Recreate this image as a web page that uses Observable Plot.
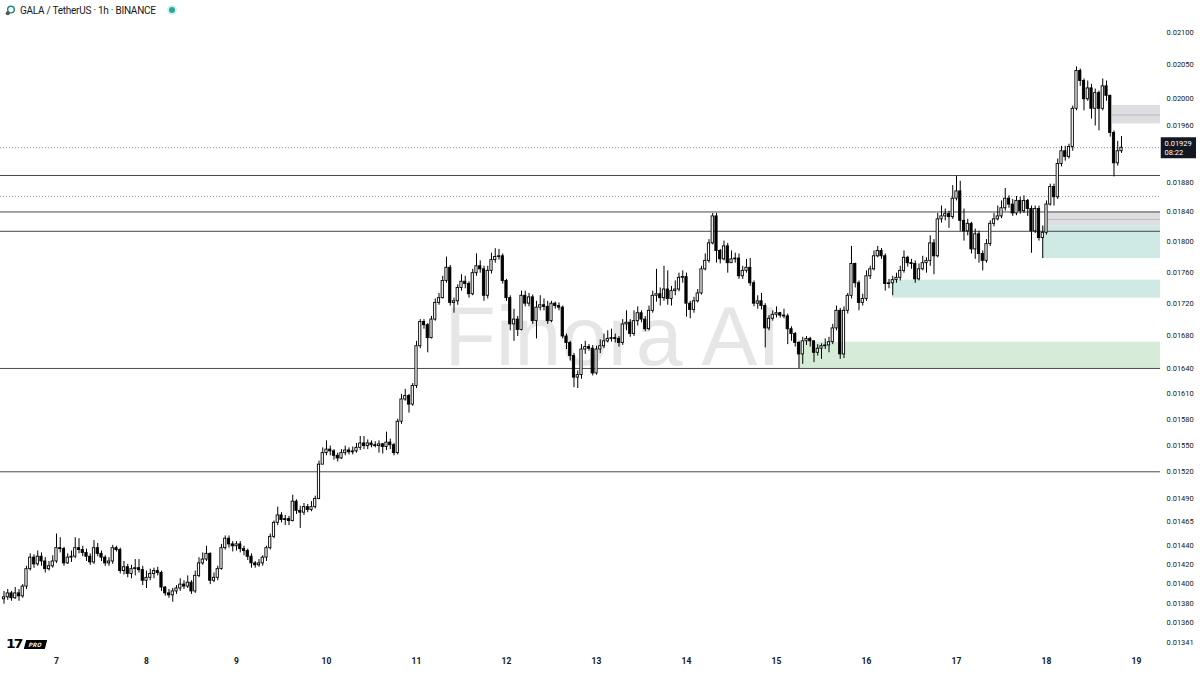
<!DOCTYPE html>
<html>
<head>
<meta charset="utf-8">
<script src="https://cdn.jsdelivr.net/npm/d3@7"></script>
<script src="https://cdn.jsdelivr.net/npm/@observablehq/plot@0.6"></script>
<style>
  html, body { margin: 0; padding: 0; background: #ffffff; }
  #wrap { position: relative; width: 1200px; height: 675px; overflow: hidden; font-family: Roboto, "Liberation Sans", sans-serif; }
  #title { position: absolute; left: 5px; top: 3px; height: 14px; display: flex; align-items: center; font-size: 10px; color: #131722; letter-spacing: -0.25px; }
  #title .ico { width: 11px; height: 11px; margin-right: 4px; }
  #title .dot { width: 6px; height: 6px; border-radius: 50%; background: #22ab94; box-shadow: 0 0 0 2px rgba(34,171,148,0.18); margin-left: 13px; }
  #logo { position: absolute; left: 7px; top: 637px; display: flex; align-items: center; }
  #logo .tv { font-family: "DejaVu Sans", sans-serif; font-weight: 900; font-size: 12px; color: #000; letter-spacing: -1.5px; transform: scaleX(1.15); }
  #logo .pro { margin-left: 4px; background: #000; color: #fff; font-size: 6px; font-weight: 700; padding: 1px 4px; transform: skewX(-15deg); letter-spacing: 0.3px; }
</style>
</head>
<body>
<div id="wrap">
  <div id="chart"></div>
  <div id="title">
    <svg class="ico" viewBox="0 0 12 12"><circle cx="6.5" cy="5" r="3.6" fill="none" stroke="#1e8a80" stroke-width="1.6"/><circle cx="3" cy="9" r="2.2" fill="#555"/></svg>
    <span id="titleText"></span>
    <span class="dot"></span>
  </div>
  <div id="logo"><span class="tv">17</span><span class="pro">PRO</span></div>
</div>
<script>
// ---------- data ----------
const symbolTitle = "GALA / TetherUS · 1h · BINANCE";
const watermark = "Finora AI";
const countdown = "08:22";

const firstHour = -14;        // hours relative to day 7, 00:00
const firstOpen = 0.01384;

const closes = [
  .01386,.01390,.01385,.01390,.01387,.01397,.01415,.01427,.01420,.01428,.01423,.01415,.01418,.01423,
  .01437,.01436,.01421,.01427,.01428,.01437,.01435,.01432,.01428,.01422,
  .01437,.01431,.01427,.01421,.01423,.01437,.01435,.01413,.01417,.01410,
  .01415,.01416,.01414,.01403,.01406,.01410,.01413,.01411,.01396,.01390,
  .01388,.01392,.01395,.01399,.01397,.01401,.01392,.01408,.01421,.01425,
  .01431,.01403,.01406,.01415,.01437,.01447,.01441,.01439,.01441,.01436,
  .01434,.01428,.01421,.01419,.01421,.01427,.01437,.01449,.01464,.01472,
  .01467,.01468,.01466,.01487,.01477,.01475,.01481,.01478,.01481,.01490,
  .01528,.01541,.01545,.01543,.01538,.01535,.01541,.01544,.01542,.01543,
  .01547,.01552,.01549,.01552,.01550,.01549,.01551,.01548,.01553,.01550,
  .01541,.01577,.01603,.01607,.01597,.01619,.01667,.01697,.01693,.01677,
  .01700,.01721,.01727,.01749,.01766,.01721,.01723,.01740,.01748,.01745,
  .01732,.01759,.01768,.01764,.01730,.01762,.01776,.01780,.01781,.01749,
  .01727,.01694,.01700,.01687,.01730,.01720,.01728,.01698,.01715,.01718,
  .01716,.01698,.01720,.01717,.01715,.01679,.01671,.01655,.01629,.01632,
  .01663,.01666,.01664,.01634,.01663,.01667,.01673,.01676,.01677,.01676,
  .01671,.01694,.01696,.01682,.01698,.01708,.01700,.01688,.01711,.01730,
  .01732,.01727,.01738,.01726,.01736,.01738,.01753,.01754,.01720,.01712,
  .01723,.01733,.01764,.01775,.01798,.01834,.01788,.01777,.01794,.01772,
  .01777,.01778,.01755,.01762,.01766,.01746,.01720,.01723,.01717,.01689,
  .01701,.01706,.01708,.01705,.01704,.01688,.01682,.01671,.01657,.01673,
  .01676,.01673,.01659,.01664,.01667,.01668,.01672,.01689,.01711,.01657,
  .01711,.01730,.01771,.01746,.01721,.01726,.01755,.01764,.01781,.01788,
  .01781,.01745,.01746,.01750,.01753,.01762,.01779,.01772,.01771,.01751,
  .01764,.01772,.01775,.01798,.01781,.01830,.01834,.01837,.01833,.01858,
  .01868,.01828,.01814,.01824,.01790,.01810,.01784,.01775,.01797,.01824,
  .01830,.01834,.01845,.01858,.01850,.01838,.01855,.01841,.01855,.01844,
  .01814,.01844,.01805,.01812,.01850,.01874,.01860,.01906,.01924,.01916,
  .01930,.01985,.02041,.02026,.01999,.02015,.01985,.02008,.01985,.02018,
  .02004,.01950,.01907,.01924,.01929
];

const highs = [
  .01392,.01394,.01392,.01396,.01394,.01399,.01418,.01431,.01430,.01434,.01432,.01427,.01423,.01429,
  .01452,.01448,.01438,.01431,.01434,.01448,.01447,.01439,.01436,.01431,
  .01445,.01442,.01434,.01429,.01427,.01440,.01439,.01437,.01423,.01420,
  .01419,.01425,.01425,.01418,.01413,.01415,.01416,.01417,.01413,.01397,
  .01394,.01395,.01398,.01405,.01403,.01408,.01403,.01413,.01427,.01432,
  .01439,.01432,.01411,.01418,.01441,.01450,.01450,.01444,.01444,.01444,
  .01439,.01436,.01431,.01423,.01425,.01429,.01439,.01452,.01466,.01481,
  .01475,.01472,.01471,.01494,.01489,.01482,.01485,.01484,.01487,.01493,
  .01532,.01547,.01555,.01549,.01545,.01541,.01545,.01549,.01547,.01548,
  .01552,.01560,.01560,.01556,.01555,.01554,.01555,.01552,.01565,.01557,
  .01552,.01580,.01609,.01615,.01609,.01622,.01673,.01700,.01700,.01695,
  .01704,.01726,.01733,.01755,.01780,.01769,.01727,.01744,.01757,.01755,
  .01748,.01764,.01784,.01775,.01768,.01768,.01785,.01791,.01790,.01784,
  .01751,.01730,.01713,.01704,.01736,.01736,.01733,.01731,.01723,.01730,
  .01726,.01723,.01723,.01722,.01721,.01717,.01682,.01673,.01658,.01637,
  .01669,.01673,.01669,.01668,.01667,.01675,.01682,.01686,.01688,.01682,
  .01679,.01700,.01711,.01700,.01711,.01716,.01711,.01704,.01717,.01736,
  .01764,.01740,.01768,.01762,.01742,.01749,.01759,.01762,.01759,.01723,
  .01728,.01738,.01768,.01784,.01803,.01838,.01838,.01790,.01801,.01798,
  .01788,.01785,.01784,.01768,.01777,.01778,.01749,.01730,.01733,.01720,
  .01705,.01711,.01716,.01709,.01713,.01707,.01691,.01684,.01673,.01678,
  .01679,.01678,.01674,.01669,.01670,.01676,.01678,.01694,.01717,.01714,
  .01716,.01733,.01794,.01772,.01749,.01732,.01762,.01768,.01788,.01794,
  .01791,.01784,.01751,.01755,.01759,.01768,.01788,.01781,.01777,.01775,
  .01771,.01781,.01779,.01808,.01803,.01838,.01848,.01844,.01841,.01876,
  .01889,.01882,.01844,.01830,.01826,.01817,.01814,.01788,.01803,.01828,
  .01838,.01848,.01855,.01872,.01862,.01857,.01861,.01860,.01862,.01857,
  .01848,.01848,.01848,.01821,.01855,.01878,.01878,.01913,.01931,.01931,
  .01934,.01989,.02047,.02044,.02029,.02026,.02021,.02014,.02011,.02029,
  .02026,.02005,.01953,.01938,.01945
];

const lows = [
  .01379,.01383,.01382,.01384,.01382,.01385,.01394,.01413,.01416,.01418,.01418,.01411,.01413,.01416,
  .01421,.01432,.01418,.01420,.01422,.01426,.01431,.01428,.01423,.01419,
  .01420,.01428,.01423,.01418,.01418,.01420,.01433,.01410,.01409,.01406,
  .01405,.01408,.01411,.01398,.01395,.01403,.01405,.01408,.01392,.01387,
  .01385,.01381,.01389,.01392,.01394,.01395,.01389,.01390,.01406,.01419,
  .01423,.01399,.01401,.01403,.01414,.01435,.01437,.01433,.01434,.01432,
  .01429,.01424,.01416,.01416,.01417,.01418,.01423,.01435,.01447,.01461,
  .01464,.01461,.01461,.01465,.01473,.01458,.01472,.01475,.01476,.01479,
  .01489,.01530,.01538,.01538,.01533,.01531,.01534,.01538,.01539,.01539,
  .01541,.01544,.01545,.01545,.01547,.01547,.01541,.01540,.01544,.01545,
  .01538,.01539,.01574,.01601,.01587,.01595,.01616,.01664,.01688,.01659,
  .01676,.01698,.01718,.01726,.01746,.01717,.01708,.01718,.01736,.01739,
  .01727,.01730,.01755,.01759,.01723,.01726,.01758,.01772,.01776,.01745,
  .01723,.01686,.01673,.01679,.01686,.01716,.01716,.01694,.01676,.01711,
  .01711,.01694,.01696,.01713,.01711,.01676,.01663,.01649,.01617,.01616,
  .01627,.01657,.01661,.01631,.01632,.01658,.01664,.01671,.01672,.01671,
  .01666,.01668,.01686,.01678,.01679,.01692,.01696,.01685,.01686,.01708,
  .01722,.01717,.01723,.01718,.01717,.01730,.01735,.01746,.01703,.01701,
  .01708,.01721,.01731,.01762,.01772,.01796,.01772,.01771,.01775,.01759,
  .01772,.01772,.01751,.01751,.01759,.01742,.01716,.01713,.01712,.01665,
  .01686,.01698,.01702,.01702,.01701,.01669,.01673,.01666,.01640,.01645,
  .01668,.01666,.01647,.01655,.01651,.01663,.01659,.01669,.01686,.01651,
  .01652,.01707,.01726,.01740,.01711,.01717,.01723,.01751,.01762,.01779,
  .01777,.01736,.01739,.01730,.01746,.01749,.01759,.01767,.01764,.01746,
  .01749,.01762,.01759,.01768,.01757,.01779,.01825,.01828,.01818,.01830,
  .01855,.01814,.01801,.01808,.01784,.01777,.01772,.01762,.01772,.01794,
  .01820,.01828,.01831,.01841,.01845,.01834,.01835,.01837,.01838,.01834,
  .01785,.01811,.01801,.01778,.01809,.01848,.01848,.01857,.01902,.01910,
  .01913,.01924,.01982,.02018,.01982,.01996,.01970,.01960,.01953,.01982,
  .01996,.01944,.01888,.01903,.01921
];

const dayLabels = [7, 8, 9, 10, 11, 12, 13, 14, 15, 16, 17, 18, 19];
const priceTicks = [0.02100, 0.02050, 0.02000, 0.01960, 0.01880, 0.01840, 0.01800, 0.01760, 0.01720,
  0.01680, 0.01640, 0.01610, 0.01580, 0.01550, 0.01520, 0.01490, 0.01465, 0.01440, 0.01420,
  0.01400, 0.01380, 0.01360, 0.01341];

const solidLevels = [0.01890, 0.01840, 0.01814, 0.01640, 0.01520];
const dottedLevels = [0.01861];

const zoneStartHour = [281.6, 264.3, 263, 223, 198];
const zoneLow  = [0.01963, 0.01821, 0.01778, 0.01727, 0.01640];
const zoneHigh = [0.01990, 0.01840, 0.01821, 0.01750, 0.01672];
const zoneKind = ["gray", "gray", "teal", "teal", "green"];
const zoneMid  = [0.01976, 0.01830, null, null, null];

// ---------- build ----------
const base = Date.UTC(2024, 10, 7);
const HOUR = 3600e3;
const at = h => new Date(base + h * HOUR);
const xStart = -14.93, xEnd = 294.4;

const candles = closes.map((c, i) => {
  const o = i ? closes[i - 1] : firstOpen;
  const h = firstHour + i;
  return { t: at(h), t0: at(h - 0.3), t1: at(h + 0.3), o, c,
           hi: Math.max(highs[i], o, c), lo: Math.min(lows[i], o, c), up: c >= o };
});
const last = closes[closes.length - 1];

const zoneFill = { gray: "#dedee2", teal: "#cfe9e4", green: "#d6ecd8" };
const zones = zoneStartHour.map((s, i) => ({ x1: at(s), x2: at(xEnd), y1: zoneLow[i], y2: zoneHigh[i], kind: zoneKind[i], mid: zoneMid[i] }));
const dayTicks = dayLabels.map(d => at((d - 7) * 24));

document.getElementById("titleText").textContent = symbolTitle;

const chart = Plot.plot({
  width: 1200,
  height: 675,
  marginLeft: 0,
  marginRight: 40,
  marginTop: 31.7,
  marginBottom: 33.3,
  style: { background: "#ffffff", fontFamily: "Roboto, 'Liberation Sans', sans-serif", color: "#131722", overflow: "visible" },
  x: { type: "utc", domain: [at(xStart), at(xEnd)], axis: null },
  y: { type: "log", domain: [0.01341, 0.021], axis: null },
  marks: [
    Plot.text([watermark], { frameAnchor: "middle", dx: 32, dy: 1, text: d => d, fontSize: 84,
      fill: "#e6e6e6", fontFamily: "'Liberation Sans', Arial, sans-serif" }),
    Plot.rect(zones, { x1: "x1", x2: "x2", y1: "y1", y2: "y2", fill: d => zoneFill[d.kind] }),
    Plot.ruleY(zones.filter(d => d.mid != null), { y: "mid", x1: "x1", x2: "x2", stroke: "#b9b9be", strokeWidth: 1 }),
    Plot.ruleY(solidLevels, { stroke: "#4a4a4a", strokeWidth: 1 }),
    Plot.ruleY(dottedLevels, { stroke: "#9a9a9a", strokeWidth: 1, strokeDasharray: "1,2" }),
    Plot.ruleY([last], { stroke: "#8a8a8a", strokeWidth: 1, strokeDasharray: "1,2" }),
    Plot.ruleX(candles, { x: "t", y1: "lo", y2: "hi", stroke: "#000", strokeWidth: 1 }),
    Plot.rect(candles, { x1: "t0", x2: "t1", y1: "o", y2: "c", fill: d => d.up ? "#ffffff" : "#000000", stroke: "#000", strokeWidth: 0.9 }),
    Plot.axisY(priceTicks, { anchor: "right", tickSize: 0, tickPadding: 6, tickFormat: d3.format(".5f"),
      fontSize: 7.5, fill: "#131722" }),
    Plot.axisX(dayTicks, { anchor: "bottom", tickSize: 0, tickPadding: 16, tickFormat: d3.utcFormat("%-d"),
      fontSize: 8.5, fontWeight: "bold", fill: "#131722" }),
    Plot.ruleY([last], { y: d => d, x1: at(xEnd + 0.2), x2: at(304), stroke: "#131722", strokeWidth: 21 }),
    Plot.text([last], { y: d => d, frameAnchor: "right", dx: 4, textAnchor: "start", lineAnchor: "middle",
      text: d => d3.format(".5f")(d) + "\n" + countdown, fill: "#ffffff", fontSize: 7.5, lineHeight: 1.2 })
  ]
});
document.getElementById("chart").appendChild(chart);
</script>
</body>
</html>
